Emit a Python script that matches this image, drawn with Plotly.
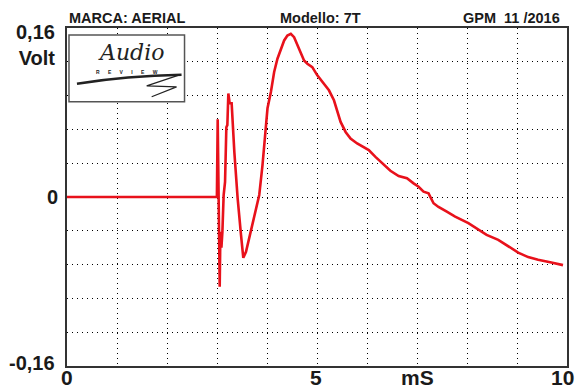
import plotly.graph_objects as go

# Time (ms) and voltage (V)
t_ms = [0.0, 2.998, 3.014, 3.034, 3.054, 3.068, 3.088, 3.108, 3.133, 3.161, 3.187,
        3.207, 3.227, 3.253, 3.293, 3.347, 3.412, 3.480, 3.526, 3.580, 3.645, 3.705,
        3.779, 3.845, 3.910, 3.958, 4.010, 4.078, 4.143, 4.209, 4.277, 4.343, 4.408,
        4.476, 4.542, 4.608, 4.675, 4.741, 4.807, 4.906, 5.006, 5.106, 5.239, 5.339,
        5.404, 5.472, 5.572, 5.671, 5.803, 5.902, 6.036, 6.169, 6.335, 6.468, 6.633,
        6.799, 6.932, 7.032, 7.131, 7.231, 7.331, 7.430, 7.596, 7.763, 8.028, 8.227,
        8.392, 8.625, 8.825, 9.024, 9.223, 9.422, 9.687, 9.920]
volt = [0.0, 0.0, 0.0736, -0.0028, -0.085, -0.033, -0.048, -0.033, 0.0019, 0.0142, 0.066,
        0.068, 0.098, 0.0887, 0.0887, 0.0425, -0.0009, -0.0359, -0.0576, -0.0519, -0.0387, -0.0264,
        -0.0142, 0.0019, 0.0302, 0.0585, 0.0840, 0.0994, 0.1183, 0.1309, 0.1388, 0.1482, 0.1529,
        0.1545, 0.1513, 0.1435, 0.1357, 0.1293, 0.1262, 0.1230, 0.1152, 0.1088, 0.1010, 0.0916,
        0.0805, 0.0711, 0.0616, 0.0554, 0.0507, 0.0481, 0.0444, 0.0380, 0.0302, 0.0248, 0.0198,
        0.0177, 0.0129, 0.0097, 0.0050, 0.0035, -0.0059, -0.0094, -0.0139, -0.0186, -0.0248, -0.0312,
        -0.0359, -0.0406, -0.0469, -0.0526, -0.0569, -0.0595, -0.0620, -0.0645]

x_tick_vals = [0, 5, 10]
x_tick_text = ["0", "5", "10"]
y_tick_vals = [0.16, 0, -0.16]
y_tick_text = ["0,16<br>Volt", "0", "-0,16"]
header_texts = ["MARCA: AERIAL", "Modello: 7T", "GPM  11 /2016"]

FONT = "Liberation Sans, Arial, sans-serif"
TXT = "#1a1a1a"

fig = go.Figure()
fig.add_trace(go.Scatter(x=t_ms, y=volt, mode="lines",
                         line=dict(color="#e8111b", width=2.6), hoverinfo="skip"))

grid = dict(showgrid=True, gridcolor="#000000", gridwidth=1, griddash="1px,4px")
fig.update_xaxes(range=[0, 10], tickvals=x_tick_vals, showticklabels=False, ticks="",
                 minor=dict(dtick=1, **grid), zeroline=False,
                 showline=True, mirror=True, linecolor="#333333", linewidth=2, **grid)
fig.update_yaxes(range=[-0.16, 0.16], tickvals=y_tick_vals, showticklabels=False, ticks="",
                 minor=dict(dtick=0.032, tick0=0, **grid), zeroline=False,
                 showline=True, mirror=True, linecolor="#333333", linewidth=2, **grid)

ann = []
# x tick labels
xpos = [(67, "center"), (317, "center"), (578, "right")]
for (px, anc), txt in zip(xpos, x_tick_text):
    ann.append(dict(x=(px - 67) / 502, y=-23 / 339, xref="paper", yref="paper",
                    text=f"<b>{txt}</b>", showarrow=False, xanchor=anc, yanchor="bottom",
                    font=dict(family=FONT, size=21, color=TXT), yshift=-2))
ann.append(dict(x=7.0, y=-23 / 339, xref="x", yref="paper", text="<b>mS</b>",
                showarrow=False, xanchor="center", yanchor="bottom",
                font=dict(family=FONT, size=21, color=TXT), yshift=-2))
# y tick labels
ypos = [(0.16, "top", 9), (0, "middle", 0), (-0.16, "middle", 3)]
for (yv, ya, ys), txt in zip(ypos, y_tick_text):
    ann.append(dict(x=-7 / 502 if yv == 0 else -10 / 502, y=yv, xref="paper", yref="y",
                    text=f"<b>{txt}</b>", showarrow=False, xanchor="right", yanchor=ya,
                    font=dict(family=FONT, size=20, color=TXT), yshift=ys,
                    align="right"))
# header
hx = [(67, "left"), (279, "left"), (564, "right")]
for (px, anc), txt in zip(hx, header_texts):
    ann.append(dict(x=(px - 67) / 502, y=1.0, xref="paper", yref="paper",
                    text=f"<b>{txt}</b>", showarrow=False, xanchor=anc, yanchor="bottom",
                    font=dict(family=FONT, size=14.5, color=TXT), yshift=0))
# logo
fig.add_shape(type="rect", xref="paper", yref="paper",
              x0=2 / 502, x1=118 / 502, y0=(366 - 101) / 339, y1=(366 - 34) / 339,
              line=dict(color="#555555", width=1.5), fillcolor="white", layer="above")
ann.append(dict(x=(131 - 67) / 502, y=(197 - 52) * 0.16 / 169.5, xref="paper", yref="y",
                text="<i>Audio</i>", showarrow=False, xanchor="center", yanchor="middle",
                font=dict(family="DejaVu Serif, serif", size=22, color="#222222")))
ann.append(dict(x=(127 - 67) / 502, y=(197 - 72) * 0.16 / 169.5, xref="paper", yref="y",
                text="<b>R      E      V      I      E      W</b>", showarrow=False,
                xanchor="center", yanchor="middle",
                font=dict(family=FONT, size=5, color="#222222")))
fig.add_shape(type="path", xref="paper", yref="paper",
              path=(f"M {10/502},{(366-83)/339} Q {60/502},{(366-75)/339} {115/502},{(366-74)/339}"),
              line=dict(color="#222222", width=2.5), layer="above")
fig.add_shape(type="path", xref="paper", yref="paper",
              path=(f"M {113/502},{(366-74)/339} L {80/502},{(366-85)/339} "
                    f"L {110/502},{(366-86)/339} L {85/502},{(366-96)/339}"),
              line=dict(color="#222222", width=1.2), layer="above")

fig.update_layout(width=581, height=389, margin=dict(l=67, r=12, t=28, b=23),
                  plot_bgcolor="white", paper_bgcolor="white", showlegend=False,
                  annotations=ann)
fig.write_html("out.html")
